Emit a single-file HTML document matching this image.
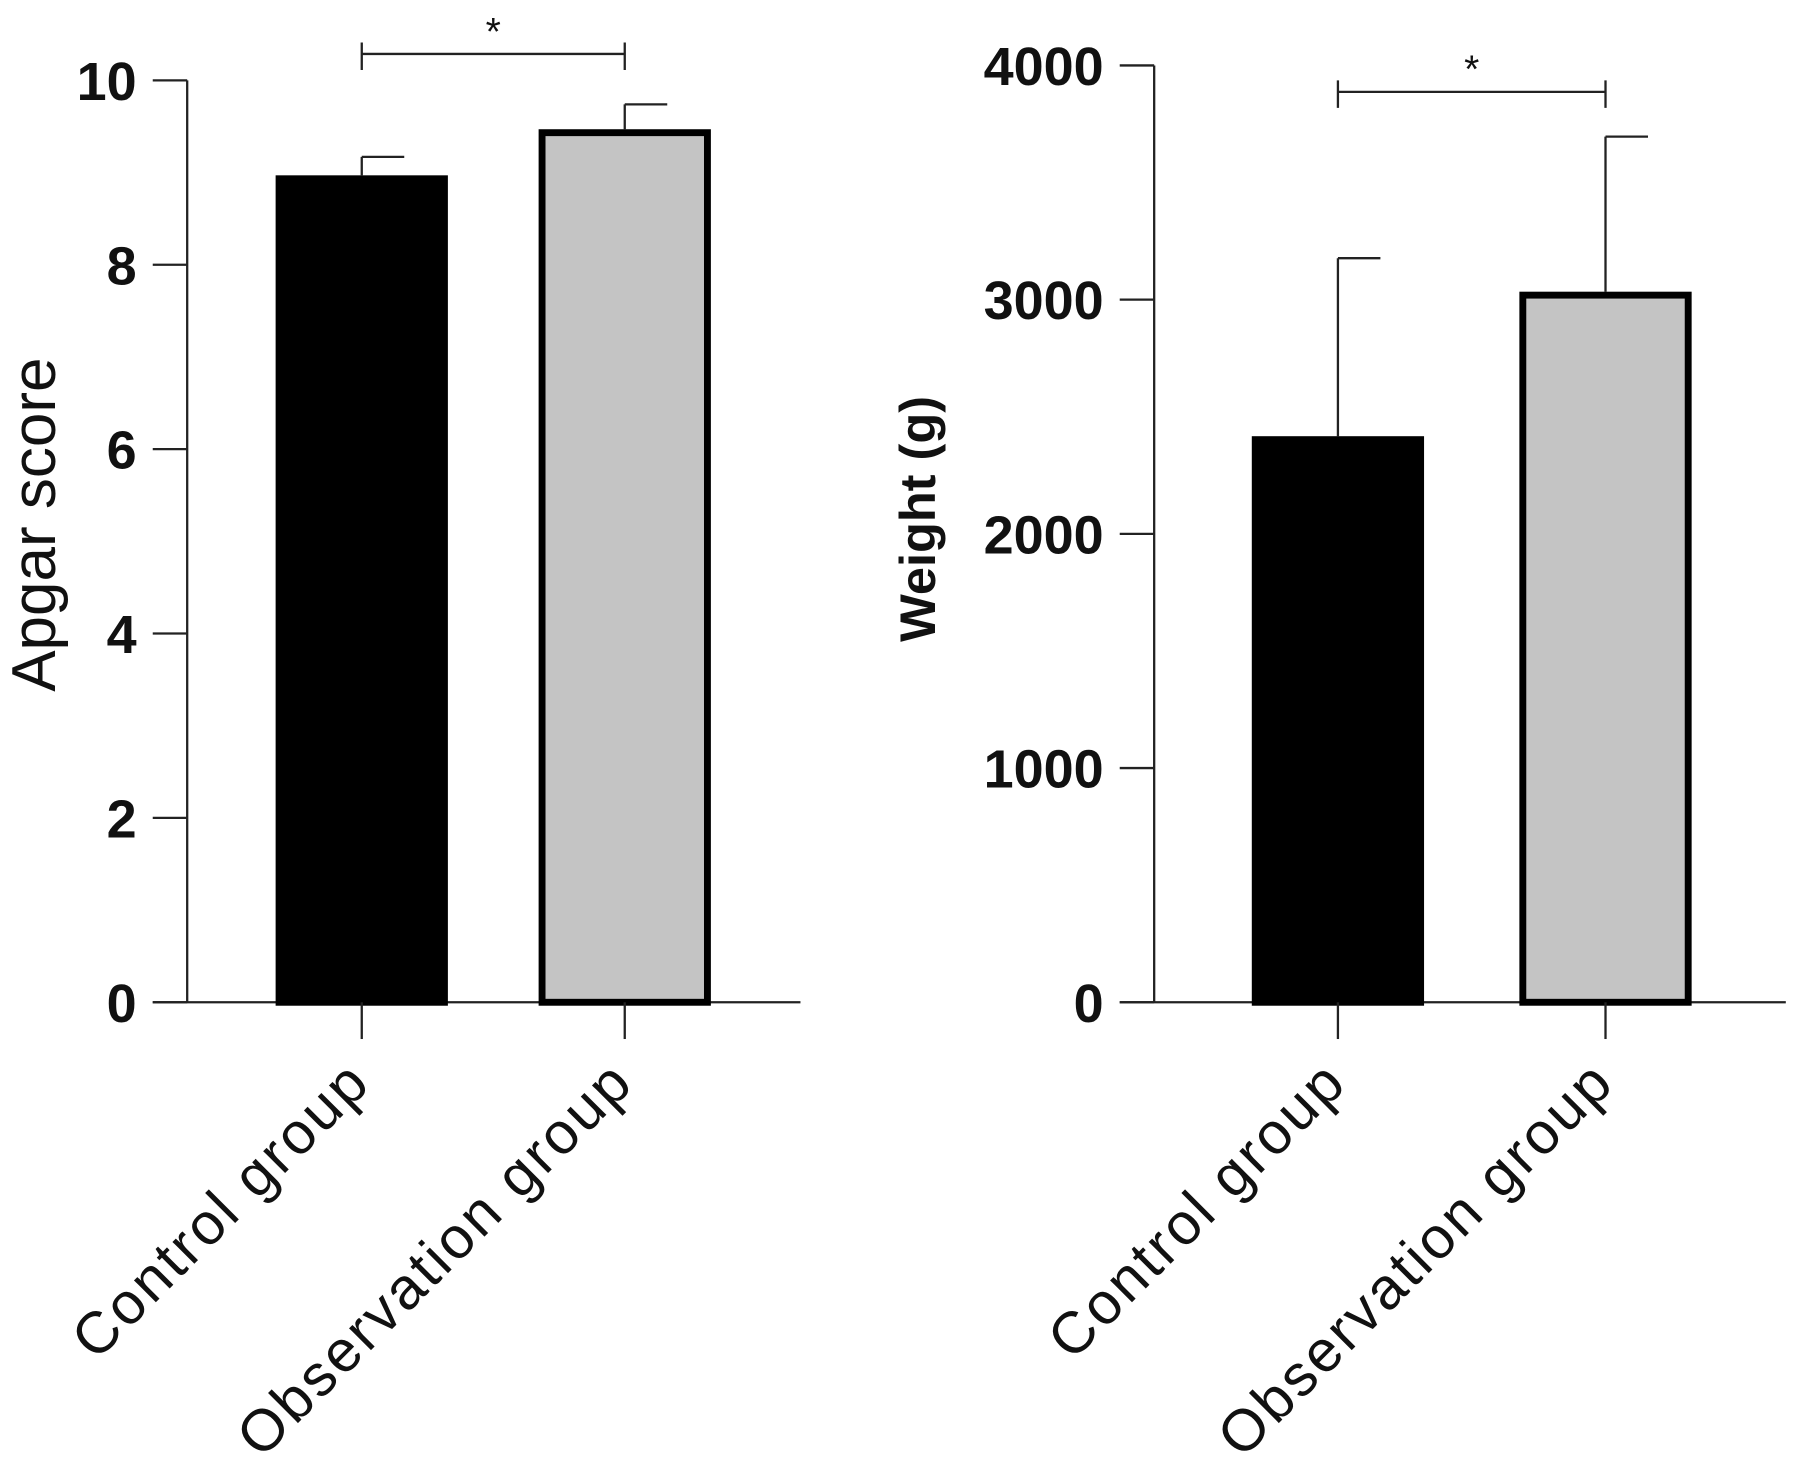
<!DOCTYPE html>
<html><head><meta charset="utf-8"><style>
html,body{margin:0;padding:0;background:#fff;}
svg{display:block;}
text{font-family:"Liberation Sans",Arial,sans-serif;fill:#111;}
</style></head><body>
<svg id="c" width="1795" height="1473" viewBox="0 0 1563 1283" preserveAspectRatio="none" xmlns="http://www.w3.org/2000/svg"></svg>
<script>
const categories = ["Control group", "Observation group"];
const apgarMeans = [8.97, 9.47];
const apgarSD = [0.2, 0.27];
const apgarTicks = [0, 2, 4, 6, 8, 10];
const weightMeans = [2417, 3034];
const weightSD = [760, 662];
const weightTicks = [0, 1000, 2000, 3000, 4000];
const fills = ["#000", "#c4c4c4"];

const svg = document.getElementById('c');
const NS = "http://www.w3.org/2000/svg";
function mk(tag, attrs, parent){ const e=document.createElementNS(NS,tag); for(const k in attrs) e.setAttribute(k,attrs[k]); (parent||svg).appendChild(e); return e; }

function panel(p){
  const g = mk('g',{});
  
  
  const y = v => p.y0 - (v - 0) / p.max * (p.y0 - p.yTop);
  const ya = mk('line',{x1:p.ax,y1:p.yTop,x2:p.ax,y2:p.y0,stroke:'#222','stroke-width':2},g);
   
  const xa = mk('line',{x1:p.ax-30,y1:p.y0,x2:p.xEnd,y2:p.y0,stroke:'#222','stroke-width':2},g);
   
  p.ticks.forEach(t=>{
    mk('line',{x1:p.ax-30,y1:y(t),x2:p.ax,y2:y(t),stroke:'#222','stroke-width':2},g);
    const tx = mk('text',{x:p.ax-44,y:y(t)+17,'text-anchor':'end','font-size':47,'font-weight':'bold'},g);
    tx.textContent = t;
     
  });
  const yt = mk('text',{x:0,y:0,'text-anchor':'middle','font-size':p.titleSize,'font-weight':p.titleWeight,transform:`translate(${p.titleX},${p.titleY}) rotate(-90)`},g);
  yt.textContent = p.title;
   
  categories.forEach((c,i)=>{
    const cx = p.cx[i];
    const v = p.means[i], sd = p.sd[i];
    mk('line',{x1:cx,y1:y(v),x2:cx,y2:y(v+sd),stroke:'#222','stroke-width':2},g);
    mk('line',{x1:cx,y1:y(v+sd),x2:cx+37,y2:y(v+sd),stroke:'#222','stroke-width':2},g);
    const bw = p.bw;
    const b = mk('rect',{x:cx-bw/2+3,y:y(v)+3,width:bw-6,height:p.y0-y(v)-3,fill:fills[i],stroke:'#000','stroke-width':6},g);
    
    
    mk('line',{x1:cx,y1:p.y0,x2:cx,y2:p.y0+32,stroke:'#222','stroke-width':2},g);
    const lb = mk('text',{x:0,y:0,'text-anchor':'end','font-size':51,'letter-spacing':2.5,transform:`translate(${cx+10},${p.y0+72}) rotate(-45)`},g);
    lb.textContent = c;
     
  });
  const by = p.brY;
  mk('path',{d:`M${p.cx[0]},${by-10} V${by+14} M${p.cx[0]},${by} H${p.cx[1]} M${p.cx[1]},${by-10} V${by+14}`,stroke:'#222','stroke-width':2,fill:'none'},g);
  const st = mk('text',{x:(p.cx[0]+p.cx[1])/2,y:by-8,'text-anchor':'middle','font-size':34},g);
  st.textContent='*';
   
}
panel({name:'apgar-chart',ax:163,yTop:70,y0:873,max:10,xEnd:697,ticks:apgarTicks,means:apgarMeans,sd:apgarSD,cx:[315,544],bw:150,title:'Apgar score',titleSize:54,titleWeight:'normal',titleX:48,titleY:457,brY:47});
panel({name:'weight-chart',ax:1005,yTop:57,y0:873,max:4000,xEnd:1555,ticks:weightTicks,means:weightMeans,sd:weightSD,cx:[1165,1398],bw:150,title:'Weight (g)',titleSize:44,titleWeight:'bold',titleX:814,titleY:452,brY:80});
</script>
</body></html>
